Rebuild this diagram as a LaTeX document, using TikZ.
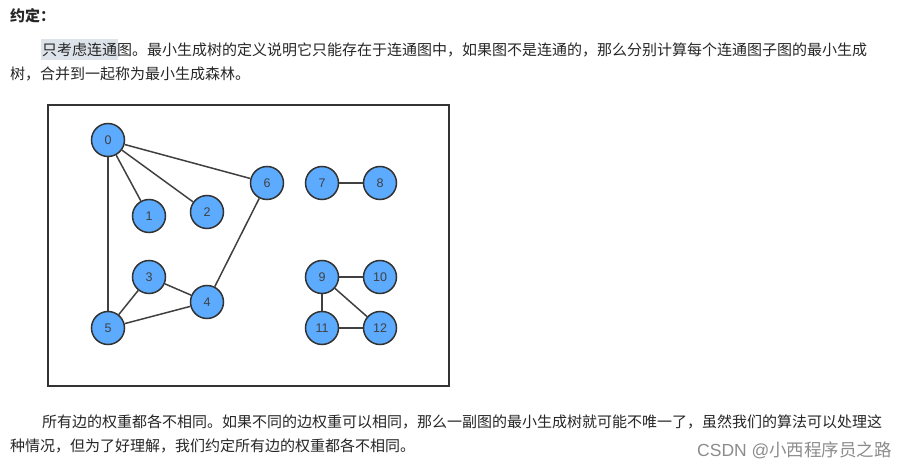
\documentclass[tikz,border=0pt]{standalone}
\usepackage{fontspec}
\setmainfont{Noto Sans CJK SC}
\setsansfont{Liberation Sans}
\begin{document}
\begin{tikzpicture}[x=1pt,y=-1pt,
  vert/.style={circle,draw=black!80,line width=1.5pt,fill=nodeblue,minimum size=33pt,inner sep=0pt,font=\sffamily\fontsize{12.5}{12.5}\selectfont,text=black!75},
  edge/.style={draw=black!75,line width=1.5pt},
  txt/.style={anchor=west,inner sep=0pt,font=\fontsize{15}{15}\selectfont,text=black!85}]
\definecolor{nodeblue}{RGB}{92,171,255}
\useasboundingbox (0,0) rectangle (914,470);
\fill[fill={rgb,255:red,221;green,227;blue,234}] (41,39) rectangle (118,60);
\node[txt,font=\fontsize{15}{15}\selectfont\bfseries] (title) at (10,16) {约定：};
\node[txt] (l1) at (42,50) {只考虑连通图。最小生成树的定义说明它只能存在于连通图中，如果图不是连通的，那么分别计算每个连通图子图的最小生成};
\node[txt] (l2) at (10,74) {树，合并到一起称为最小生成森林。};
\node[txt] (l3) at (42,422) {所有边的权重都各不相同。如果不同的边权重可以相同，那么一副图的最小生成树就可能不唯一了，虽然我们的算法可以处理这};
\node[txt] (l4) at (10,446) {种情况，但为了好理解，我们约定所有边的权重都各不相同。};
\node[txt,text=black!45,font=\fontsize{17.5}{17.5}\selectfont] (wm) at (697,450) {{\sffamily CSDN @}小西程序员之路};
\draw[draw=black!80,line width=1.5pt] (48,105) rectangle (449,386);
\node[vert] (n0) at (108,140) {0};
\node[vert] (n1) at (149,216) {1};
\node[vert] (n2) at (207,212) {2};
\node[vert] (n3) at (149,277) {3};
\node[vert] (n4) at (207,302) {4};
\node[vert] (n5) at (108,328) {5};
\node[vert] (n6) at (267,183) {6};
\node[vert] (n7) at (322,183) {7};
\node[vert] (n8) at (380,183) {8};
\node[vert] (n9) at (322,277) {9};
\node[vert] (n10) at (380,277) {10};
\node[vert] (n11) at (322,328) {11};
\node[vert] (n12) at (380,328) {12};
\draw[edge] (n0) -- (n1);
\draw[edge] (n0) -- (n2);
\draw[edge] (n0) -- (n6);
\draw[edge] (n0) -- (n5);
\draw[edge] (n6) -- (n4);
\draw[edge] (n3) -- (n4);
\draw[edge] (n3) -- (n5);
\draw[edge] (n5) -- (n4);
\draw[edge] (n7) -- (n8);
\draw[edge] (n9) -- (n10);
\draw[edge] (n9) -- (n11);
\draw[edge] (n9) -- (n12);
\draw[edge] (n11) -- (n12);
\end{tikzpicture}
\end{document}
